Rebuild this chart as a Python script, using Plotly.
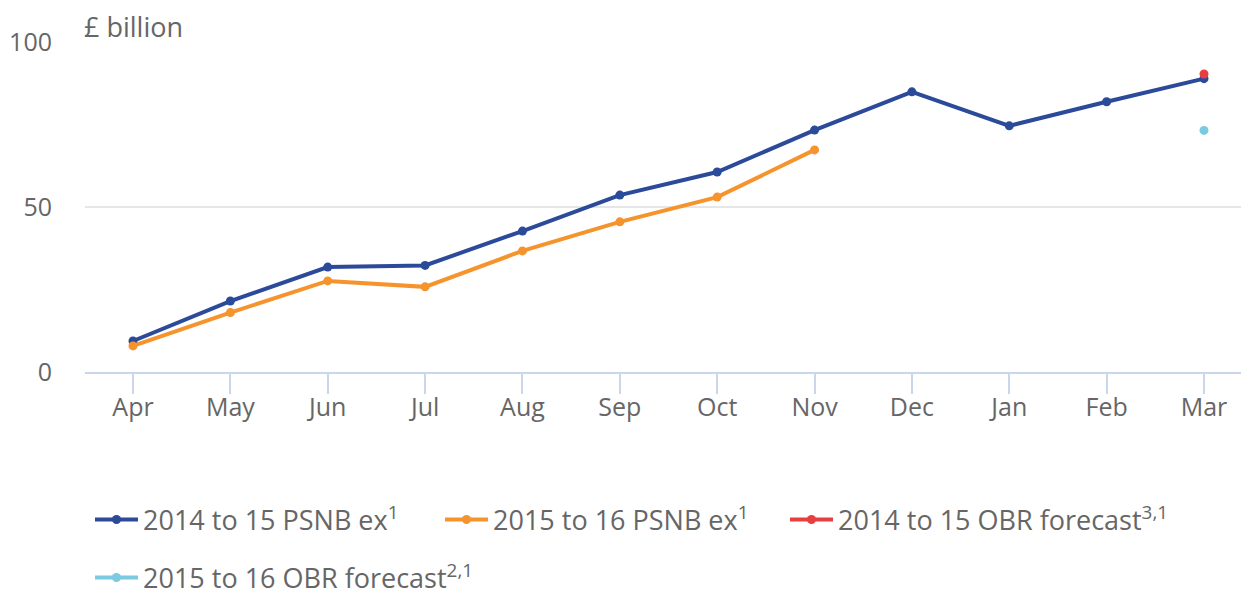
import plotly.graph_objects as go

months = ["Apr", "May", "Jun", "Jul", "Aug", "Sep", "Oct", "Nov", "Dec", "Jan", "Feb", "Mar"]
psnb_1415 = [9.4, 21.5, 31.8, 32.3, 42.7, 53.6, 60.6, 73.3, 84.9, 74.6, 81.9, 88.9]
psnb_1516 = [7.9, 18.0, 27.6, 25.8, 36.7, 45.5, 53.0, 67.3]
obr_1415_month = ["Mar"]
obr_1415 = [90.3]
obr_1516_month = ["Mar"]
obr_1516 = [73.2]

BLUE = "#2B4A99"
ORANGE = "#F5942D"
RED = "#E73F40"
CYAN = "#7BCAE2"
TXT = "#666666"
FONT = "Open Sans"

fig = go.Figure()
fig.add_trace(go.Scatter(x=months, y=psnb_1415, mode="lines+markers",
                         name="2014 to 15 PSNB ex<sup>1</sup>",
                         line=dict(color=BLUE, width=4), marker=dict(size=9, color=BLUE),
                         legend="legend"))
fig.add_trace(go.Scatter(x=months[:len(psnb_1516)], y=psnb_1516, mode="lines+markers",
                         name="2015 to 16 PSNB ex<sup>1</sup>",
                         line=dict(color=ORANGE, width=4), marker=dict(size=9, color=ORANGE),
                         legend="legend2"))
fig.add_trace(go.Scatter(x=obr_1415_month, y=obr_1415, mode="lines+markers",
                         name="2014 to 15 OBR forecast<sup>3,1</sup>",
                         line=dict(color=RED, width=4), marker=dict(size=9, color=RED),
                         legend="legend3"))
fig.add_trace(go.Scatter(x=obr_1516_month, y=obr_1516, mode="lines+markers",
                         name="2015 to 16 OBR forecast<sup>2,1</sup>",
                         line=dict(color=CYAN, width=4), marker=dict(size=9, color=CYAN),
                         legend="legend4"))


def leg(xpx, ypx):
    return dict(orientation="h", x=xpx / 1241, xref="container", y=1 - ypx / 590, yref="container",
                yanchor="middle", xanchor="left",
                font=dict(size=27, color=TXT), itemwidth=43,
                bgcolor="rgba(0,0,0,0)")


fig.update_layout(
    width=1241, height=590,
    margin=dict(l=85, r=0, t=42, b=218),
    paper_bgcolor="white", plot_bgcolor="white",
    font=dict(family=FONT, size=25, color=TXT),
    xaxis=dict(type="category", range=[-0.493, 11.38], showgrid=False,
               showline=True, linecolor="#ccd6eb", linewidth=2,
               ticks="outside", ticklen=20, tickwidth=2, tickcolor="#ccd6eb",
               ticklabelstandoff=-8,
               tickfont=dict(size=25, color=TXT), zeroline=False),
    yaxis=dict(range=[0, 100], tickvals=[0, 50, 100], showgrid=True,
               gridcolor="#e6e6e6", gridwidth=2, zeroline=False, showline=False,
               ticklabelstandoff=32, tickfont=dict(size=25, color=TXT)),
    legend=leg(90, 520),
    legend2=leg(440, 520),
    legend3=leg(785, 520),
    legend4=leg(90, 578),
    showlegend=True,
    annotations=[dict(text="£ billion", xref="paper", yref="paper", x=0, y=1,
                      xanchor="left", yanchor="bottom", yshift=-5, xshift=-3, showarrow=False,
                      font=dict(size=27, color=TXT))],
)

fig.write_html("out.html", config={"displayModeBar": False},
               post_script="document.body.style.margin='0';")
